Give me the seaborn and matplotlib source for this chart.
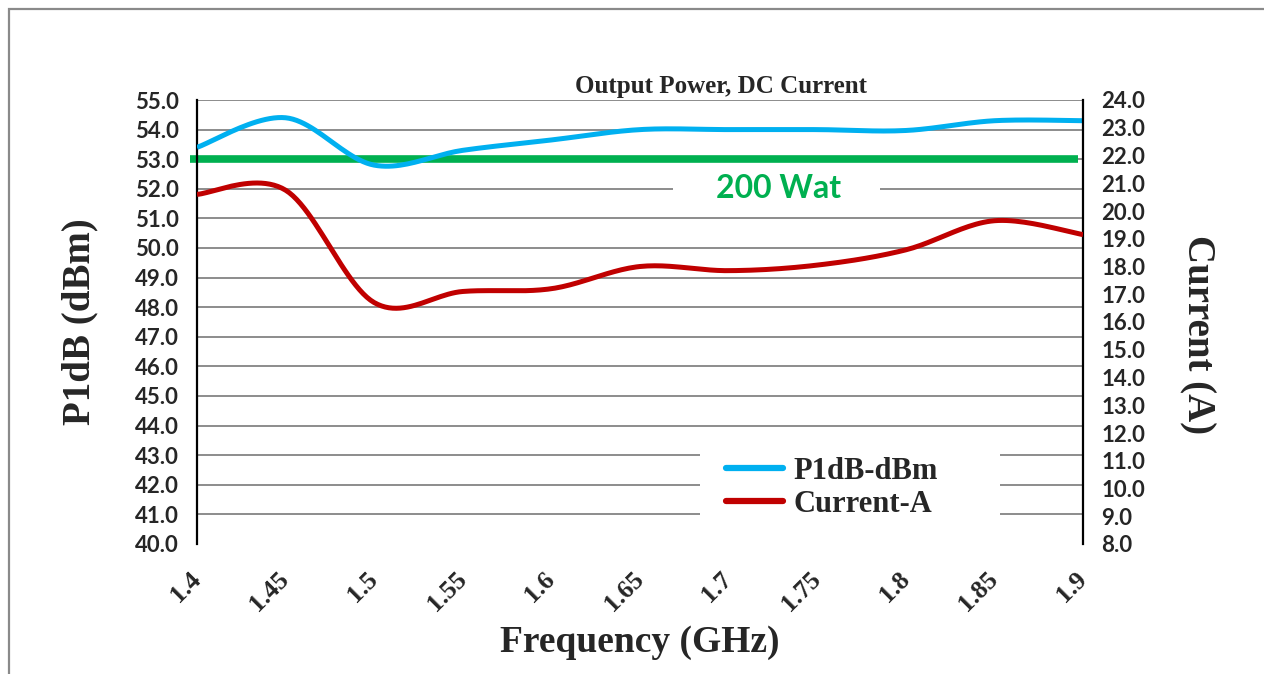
import numpy as np
import pandas as pd
import matplotlib
matplotlib.use('Agg')
import matplotlib.pyplot as plt
import matplotlib.transforms as mtransforms
from matplotlib.patches import Rectangle
from matplotlib.lines import Line2D
import seaborn as sns

# Data
freq = [1.40, 1.45, 1.50, 1.55, 1.60, 1.65, 1.70, 1.75, 1.80, 1.85, 1.90]
freq_labels = ['1.4', '1.45', '1.5', '1.55', '1.6', '1.65', '1.7', '1.75', '1.8', '1.85', '1.9']
p1db_dbm = [53.4, 54.4, 52.8, 53.3, 53.65, 54.0, 54.0, 54.0, 53.97, 54.3, 54.3]
current_a = [20.6, 20.75, 16.7, 17.1, 17.2, 18.0, 17.85, 18.05, 18.6, 19.65, 19.15]
target_dbm = 53.0  # 200 W reference line
dbm_ticks = np.arange(40, 55.5, 1.0)
amp_ticks = np.arange(8, 24.5, 1.0)

BLUE = '#00B0F0'
RED = '#C00000'
GREEN = '#00B050'
GRID = '#8c8c8c'
SERIF = 'Liberation Serif'
SANS = 'Lato'


def smooth(x, y, n=24):
    # Excel-style smoothed line (Catmull-Rom through the data points)
    x = np.asarray(x, float)
    y = np.asarray(y, float)
    xs, ys = [], []
    for i in range(len(x) - 1):
        i0, i3 = max(i - 1, 0), min(i + 2, len(x) - 1)
        mx1, my1 = (x[i + 1] - x[i0]) / 2, (y[i + 1] - y[i0]) / 2
        mx2, my2 = (x[i3] - x[i]) / 2, (y[i3] - y[i]) / 2
        t = np.linspace(0, 1, n, endpoint=(i == len(x) - 2))
        h00 = 2 * t**3 - 3 * t**2 + 1
        h10 = t**3 - 2 * t**2 + t
        h01 = -2 * t**3 + 3 * t**2
        h11 = t**3 - t**2
        xs.append(h00 * x[i] + h10 * mx1 + h01 * x[i + 1] + h11 * mx2)
        ys.append(h00 * y[i] + h10 * my1 + h01 * y[i + 1] + h11 * my2)
    return pd.DataFrame({'freq': np.concatenate(xs), 'value': np.concatenate(ys)})


sns.set_style('white')
plt.rcParams['font.family'] = [SERIF, 'DejaVu Serif']

W, H = 1264, 674
fig = plt.figure(figsize=(W / 100, H / 100), dpi=100)
ax = fig.add_axes([197 / W, 1 - 544 / H, (1083 - 197) / W, (544 - 100) / H])
ax2 = ax.twinx()

# grid + white blocks behind label and legend
ax.set_axisbelow(True)
ax.yaxis.grid(True, color=GRID, lw=1.4)
ax.add_patch(Rectangle((0.537, 0.7635), 0.234, 0.0745, transform=ax.transAxes,
                       facecolor='white', edgecolor='none', zorder=1))
ax.add_patch(Rectangle((0.568, 0.043), 0.338, 0.18, transform=ax.transAxes,
                       facecolor='white', edgecolor='none', zorder=1))

# series
sns.lineplot(data=smooth(freq, p1db_dbm), x='freq', y='value', ax=ax, color=BLUE,
             lw=3.6, estimator=None, sort=False, solid_capstyle='butt', zorder=3)
ax.axhline(target_dbm, xmin=-0.008, xmax=0.994, color=GREEN, lw=5.5,
           clip_on=False, zorder=2, solid_capstyle='butt')
sns.lineplot(data=smooth(freq, current_a), x='freq', y='value', ax=ax2, color=RED,
             lw=3.6, estimator=None, sort=False, solid_capstyle='butt', zorder=3)

ax.text(0.656, 0.80, '200 Wat', transform=ax.transAxes, ha='center', va='center',
        color=GREEN, fontsize=23, fontweight='bold', family=SANS, zorder=4)

# axes
ax.set_xlim(freq[0], freq[-1])
ax.set_ylim(dbm_ticks[0], dbm_ticks[-1])
ax2.set_ylim(amp_ticks[0], amp_ticks[-1])
ax.set_yticks(dbm_ticks)
ax.set_yticklabels([f'{v:.1f}' for v in dbm_ticks], fontsize=16, fontweight='bold', family=SANS)
ax2.set_yticks(amp_ticks)
ax2.set_yticklabels([f'{v:.1f}' for v in amp_ticks], fontsize=16, fontweight='bold', family=SANS)
ax.set_xticks(freq)
ax.set_xticklabels(freq_labels, fontsize=18.5, fontweight='bold', rotation=45,
                   ha='right', va='center', rotation_mode='anchor')
shift = mtransforms.ScaledTranslation(-17 / 100, 0, fig.dpi_scale_trans)
for lbl in ax.get_xticklabels():
    lbl.set_transform(lbl.get_transform() + shift)
ax.get_ygridlines()[0].set_visible(False)

ax.tick_params(axis='y', length=0, pad=13)
ax.tick_params(axis='x', length=0, pad=23)
ax2.tick_params(axis='y', length=0, pad=13)
ax.set_xlabel('')
ax.set_ylabel('')
ax2.set_ylabel('')

for a in (ax, ax2):
    for s in a.spines.values():
        s.set_visible(False)
ax.spines['left'].set_visible(True)
ax.spines['left'].set_color('black')
ax.spines['left'].set_linewidth(1.6)
ax2.spines['right'].set_visible(True)
ax2.spines['right'].set_color('black')
ax2.spines['right'].set_linewidth(1.6)

# text
fig.text(721 / W, 1 - 87 / H, 'Output Power, DC Current', ha='center', va='center',
         fontsize=18, fontweight='bold')
fig.text(80 / W, 1 - 322 / H, 'P1dB (dBm)', rotation=90, ha='center', va='center',
         fontsize=28, fontweight='bold')
fig.text(1197 / W, 1 - 335 / H, 'Current (A)', rotation=270, ha='center', va='center',
         fontsize=28, fontweight='bold')
fig.text(640 / W, 1 - 643 / H, 'Frequency (GHz)', ha='center', va='center',
         fontsize=27, fontweight='bold')

# legend
handles = [Line2D([], [], color=BLUE, lw=4.5, solid_capstyle='round'),
           Line2D([], [], color=RED, lw=4.5, solid_capstyle='round')]
ax2.legend(handles, ['P1dB-dBm', 'Current-A'], loc='center left',
           bbox_to_anchor=(726 / W, 1 - 488 / H), bbox_transform=fig.transFigure,
           frameon=False, borderpad=0, borderaxespad=0, handlelength=1.85,
           handletextpad=0.35, labelspacing=0.12,
           prop={'family': SERIF, 'weight': 'bold', 'size': 22})

# outer gray frame
fig.patches.append(Rectangle((9 / W, -0.1), 1.2, 1.1 - 9 / H, transform=fig.transFigure,
                             fill=False, edgecolor='#8a8a8a', lw=1.6))

fig.savefig('out.png', dpi=100)
